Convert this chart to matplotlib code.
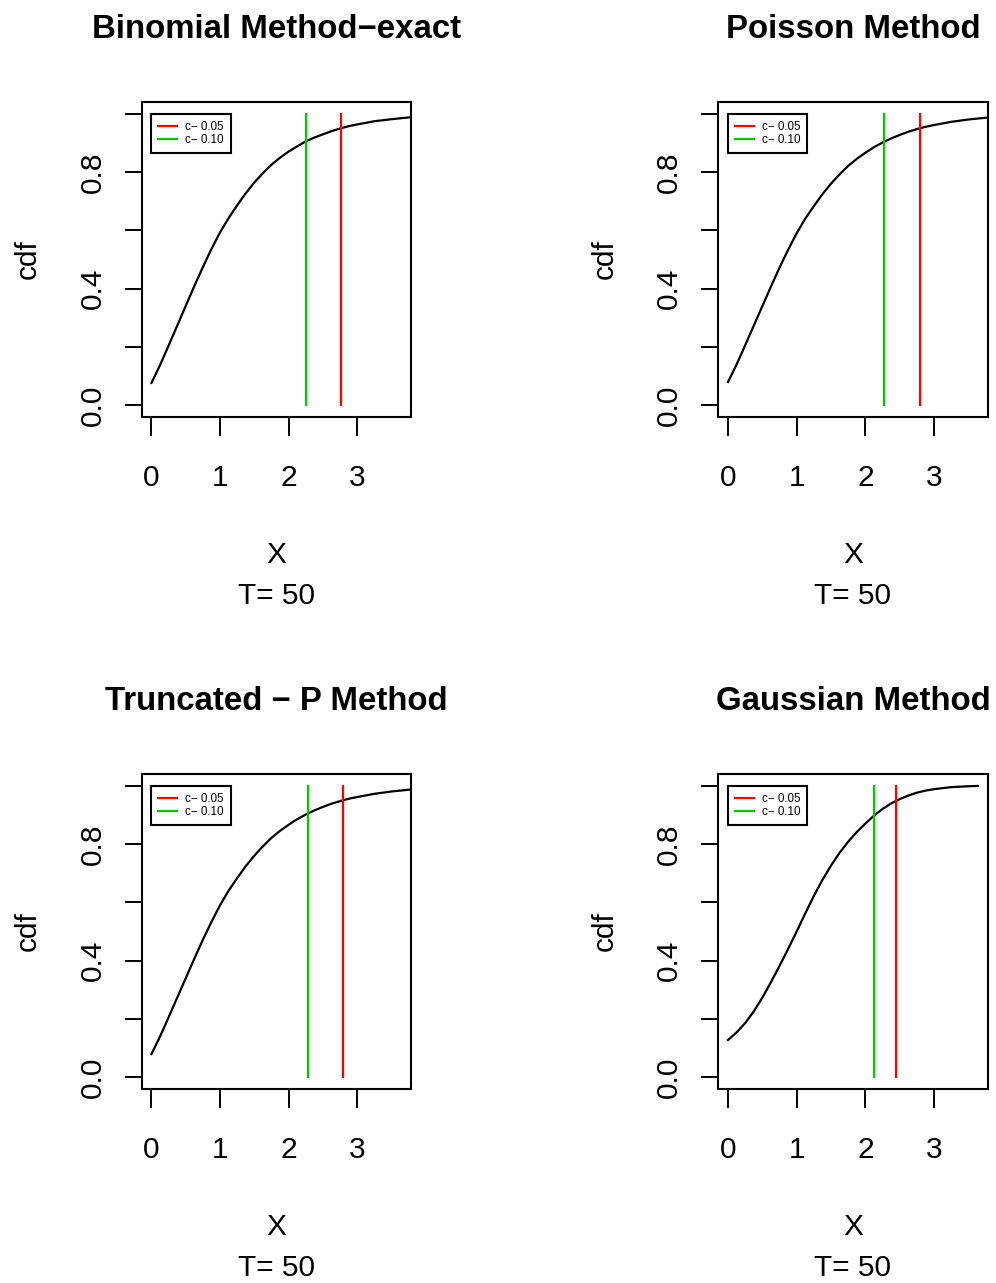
import matplotlib
matplotlib.use("Agg")
import matplotlib.pyplot as plt

plt.rcParams['font.family'] = ['Liberation Sans', 'DejaVu Sans']

# values
titles = ["Binomial Method\u2212exact", "Poisson Method",
          "Truncated \u2212 P Method", "Gaussian Method"]

x_grid = [0.0, 0.125, 0.25, 0.375, 0.5, 0.625, 0.75, 0.875, 1.0, 1.125,
          1.25, 1.375, 1.5, 1.625, 1.75, 1.875, 2.0, 2.125, 2.25, 2.375,
          2.5, 2.625, 2.75, 2.875, 3.0, 3.25, 3.5, 3.75, 4.0]
cdf_binom = [0.077, 0.138, 0.205, 0.273, 0.341, 0.409, 0.474, 0.536, 0.593,
             0.642, 0.686, 0.727, 0.764, 0.796, 0.825, 0.849, 0.870, 0.888,
             0.905, 0.918, 0.929, 0.940, 0.949, 0.957, 0.963, 0.974, 0.981,
             0.987, 0.990]
cdf_pois = [0.080, 0.140, 0.206, 0.273, 0.340, 0.407, 0.472, 0.533, 0.590,
            0.640, 0.683, 0.724, 0.760, 0.792, 0.821, 0.845, 0.866, 0.885,
            0.901, 0.915, 0.927, 0.938, 0.947, 0.955, 0.961, 0.972, 0.980,
            0.986, 0.990]
cdf_trunc = [0.080, 0.140, 0.206, 0.273, 0.340, 0.407, 0.472, 0.533, 0.590,
             0.640, 0.683, 0.724, 0.760, 0.792, 0.821, 0.845, 0.866, 0.885,
             0.901, 0.915, 0.927, 0.938, 0.947, 0.955, 0.961, 0.972, 0.980,
             0.986, 0.990]
x_gauss = [0.0, 0.125, 0.25, 0.375, 0.5, 0.625, 0.75, 0.875, 1.0, 1.125,
           1.25, 1.375, 1.5, 1.625, 1.75, 1.875, 2.0, 2.125, 2.25, 2.375,
           2.5, 2.625, 2.75, 2.875, 3.0, 3.25, 3.5, 3.64]
cdf_gauss = [0.128, 0.154, 0.186, 0.226, 0.273, 0.326, 0.382, 0.440, 0.500,
             0.562, 0.622, 0.677, 0.726, 0.770, 0.808, 0.841, 0.870, 0.897,
             0.920, 0.939, 0.954, 0.966, 0.976, 0.983, 0.988, 0.995, 0.998,
             0.999]

c05 = [2.769, 2.80, 2.80, 2.448]
c10 = [2.258, 2.277, 2.277, 2.131]

xs = [x_grid, x_grid, x_grid, x_gauss]
ys = [cdf_binom, cdf_pois, cdf_trunc, cdf_gauss]

W, H = 996, 1283
fig = plt.figure(figsize=(W / 100, H / 100), dpi=100)


def box(l, t, r, b):
    return [l / W, 1 - b / H, (r - l) / W, (b - t) / H]


boxes = [box(141.5, 102, 411, 417), box(718, 102, 988, 417),
         box(141.5, 774, 411, 1089), box(718, 774, 988, 1089)]

for i in range(4):
    ax = fig.add_axes(boxes[i])
    ax.plot(xs[i], ys[i], color="black", lw=1.6)
    l1, = ax.plot([c05[i], c05[i]], [0, 1], color="#FF0000", lw=1.6)
    l2, = ax.plot([c10[i], c10[i]], [0, 1], color="#00CD00", lw=1.6)
    ax.set_xlim(-0.04 * 3.64, 1.04 * 3.64)
    ax.set_ylim(-0.04, 1.04)
    ax.set_xticks([0, 1, 2, 3])
    ax.set_xticklabels(["0", "1", "2", "3"])
    ax.set_yticks([0, 0.2, 0.4, 0.6, 0.8, 1.0])
    ax.set_yticklabels(["0.0", "", "0.4", "", "0.8", ""], rotation=90, va="center")
    ax.tick_params(axis="x", length=14, width=1.4, labelsize=21.5, pad=20)
    ax.tick_params(axis="y", length=12, width=1.4, labelsize=21.5, pad=13)
    for s in ax.spines.values():
        s.set_linewidth(1.5)
    leg = ax.legend([l1, l2], ["c\u2212 0.05", "c\u2212 0.10"], loc="upper left",
                    bbox_to_anchor=(0, 1), bbox_transform=ax.transData,
                    borderaxespad=0, fancybox=False, edgecolor="black",
                    fontsize=8.4, handlelength=1.6, handletextpad=0.7,
                    borderpad=0.6, labelspacing=0.12, framealpha=1)
    leg.get_frame().set_linewidth(1.5)
    ax.text(0.5, 1 + 73 / 315, titles[i], transform=ax.transAxes, ha="center",
            va="center", fontsize=23.8, fontweight="bold")
    ax.text(0.5, -138 / 315, "X", transform=ax.transAxes, ha="center",
            va="center", fontsize=21.5)
    ax.text(0.5, -179 / 315, "T= 50", transform=ax.transAxes, ha="center",
            va="center", fontsize=21.5)
    ax.text(-113.5 / 269.5, 0.5, "cdf", transform=ax.transAxes, ha="center",
            va="center", rotation=90, fontsize=21.5)

fig.savefig("out.png", dpi=100)
